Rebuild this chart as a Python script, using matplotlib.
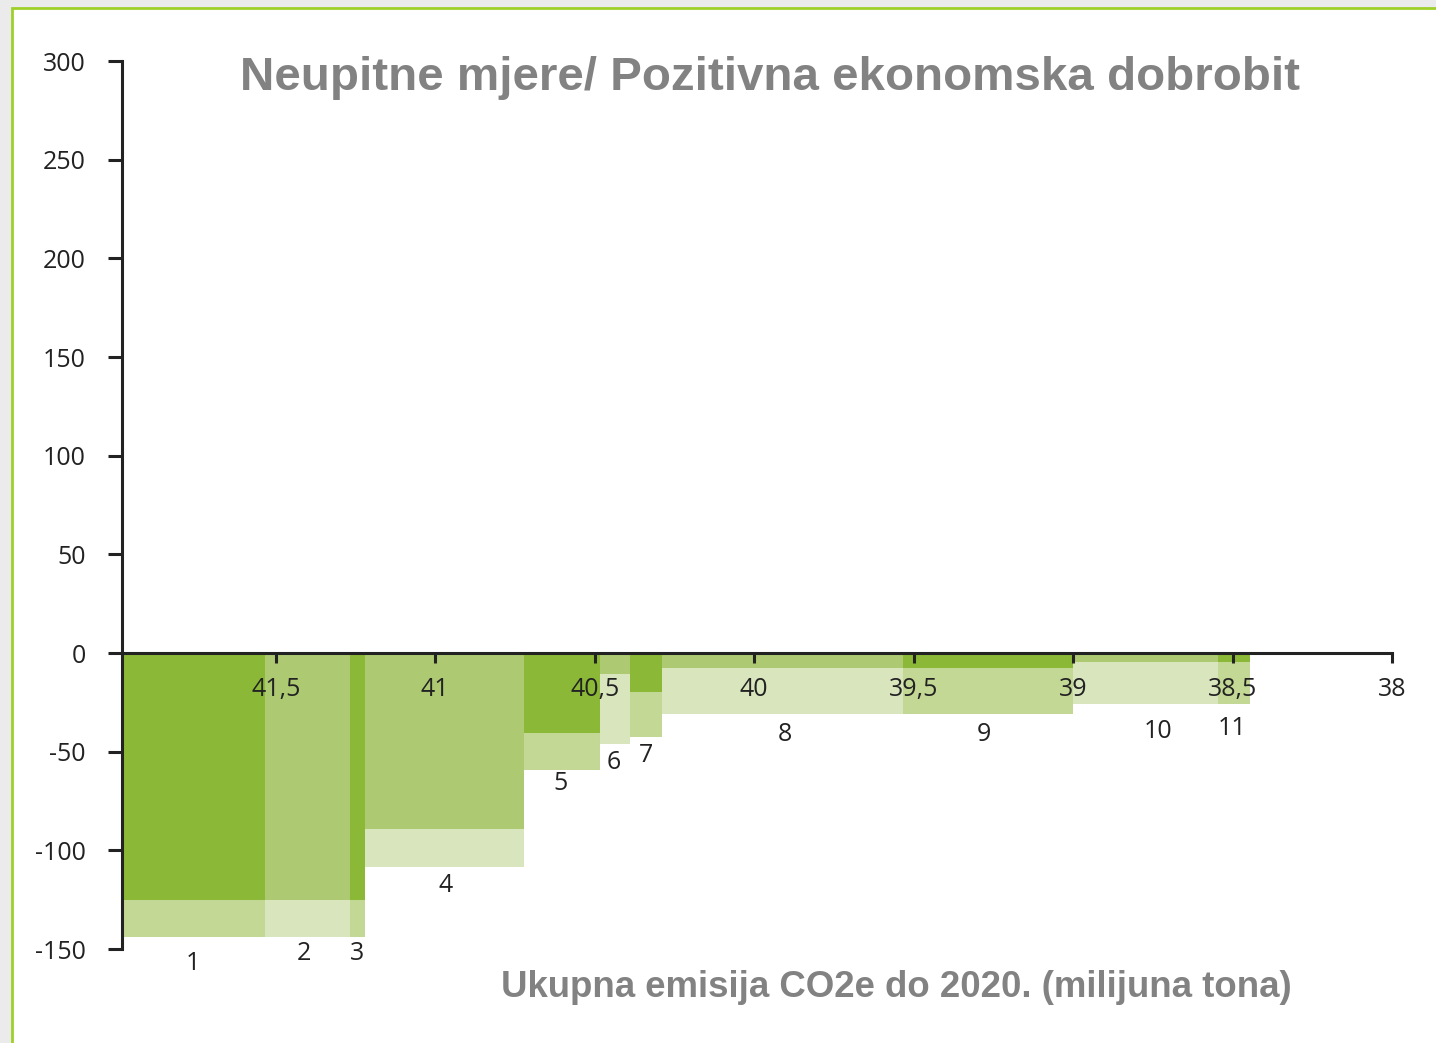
import matplotlib.pyplot as plt
from matplotlib.patches import Rectangle

# measures, left edge (mil. t CO2e), width, upper and lower cost bounds
measures = ["1", "2", "3", "4", "5", "6", "7", "8", "9", "10", "11"]
x_start = [41.982, 41.534, 41.268, 41.220, 40.722, 40.484, 40.389, 40.289, 39.533, 39.000, 38.546]
widths = [0.448, 0.266, 0.048, 0.498, 0.238, 0.095, 0.100, 0.756, 0.533, 0.454, 0.101]
cost_low = [-125, -125, -125, -89, -40.5, -10.6, -19.7, -7.6, -7.6, -4.4, -4.4]
cost_high = [-143.7, -143.7, -143.7, -108.3, -59.2, -46.0, -42.5, -30.9, -30.9, -25.6, -25.6]

label_x = [41.760, 41.412, 41.246, 40.966, 40.606, 40.440, 40.339, 39.903, 39.279, 38.734, 38.502]
label_y = [-157.3, -152.3, -152.3, -117.9, -66.3, -55.6, -52.1, -41.5, -41.5, -40.0, -38.4]

xticks = [41.5, 41, 40.5, 40, 39.5, 39, 38.5, 38]
xtick_labels = ["41,5", "41", "40,5", "40", "39,5", "39", "38,5", "38"]
yticks = [300, 250, 200, 150, 100, 50, 0, -50, -100, -150]

dark = "#8bb836"
medium = "#adc972"
light = "#c4d895"
pale = "#d9e5bd"

fig = plt.figure(figsize=(14.36, 10.43), dpi=100, facecolor="#ebebeb")
fig.patches.append(Rectangle((0.0084, -0.05), 1.1, 1.0423, transform=fig.transFigure,
                             facecolor="white", edgecolor="#9fd02a", linewidth=2, zorder=-5))

ax = fig.add_axes([0.08496, 0.09012, 0.88440, 0.85139])
ax.set_facecolor("none")
ax.set_axisbelow(False)

for i in range(len(measures)):
    # odd measures dark/light, even measures medium/pale
    top_c, bot_c = (dark, light) if i % 2 == 0 else (medium, pale)
    ax.bar(x_start[i], cost_low[i], width=-widths[i], align="edge", color=top_c, linewidth=0, zorder=1)
    ax.bar(x_start[i], cost_high[i] - cost_low[i], bottom=cost_low[i], width=-widths[i],
           align="edge", color=bot_c, linewidth=0, zorder=1)
    ax.text(label_x[i], label_y[i], measures[i], ha="center", va="center",
            fontsize=18, family="Open Sans", color="#222222", zorder=3)

ax.set_xlim(41.982, 38)
ax.set_ylim(-150, 300)
ax.spines["top"].set_visible(False)
ax.spines["right"].set_visible(False)
ax.spines["bottom"].set_position(("data", 0))
for s in ("left", "bottom"):
    ax.spines[s].set_linewidth(2.2)
    ax.spines[s].set_color("#222222")
    ax.spines[s].set_zorder(4)

ax.set_xticks(xticks)
ax.set_xticklabels(xtick_labels, family="Open Sans", fontsize=18, color="#222222")
ax.set_yticks(yticks)
ax.set_yticklabels([str(v) for v in yticks], family="Open Sans", fontsize=18, color="#222222")
ax.tick_params(axis="x", direction="out", length=7, width=2.2, pad=10, color="#222222")
ax.tick_params(axis="y", direction="out", length=10, width=2.2, pad=16, color="#222222")

fig.text(0.536, 0.925, "Neupitne mjere/ Pozitivna ekonomska dobrobit", ha="center", va="center",
         fontsize=34.2, fontweight="bold", family="Liberation Sans", color="#828282")
fig.text(0.624, 0.053, "Ukupna emisija CO2e do 2020. (milijuna tona)", ha="center", va="center",
         fontsize=26.4, fontweight="bold", family="Liberation Sans", color="#828282")

fig.savefig("out.png", dpi=100, facecolor=fig.get_facecolor())
